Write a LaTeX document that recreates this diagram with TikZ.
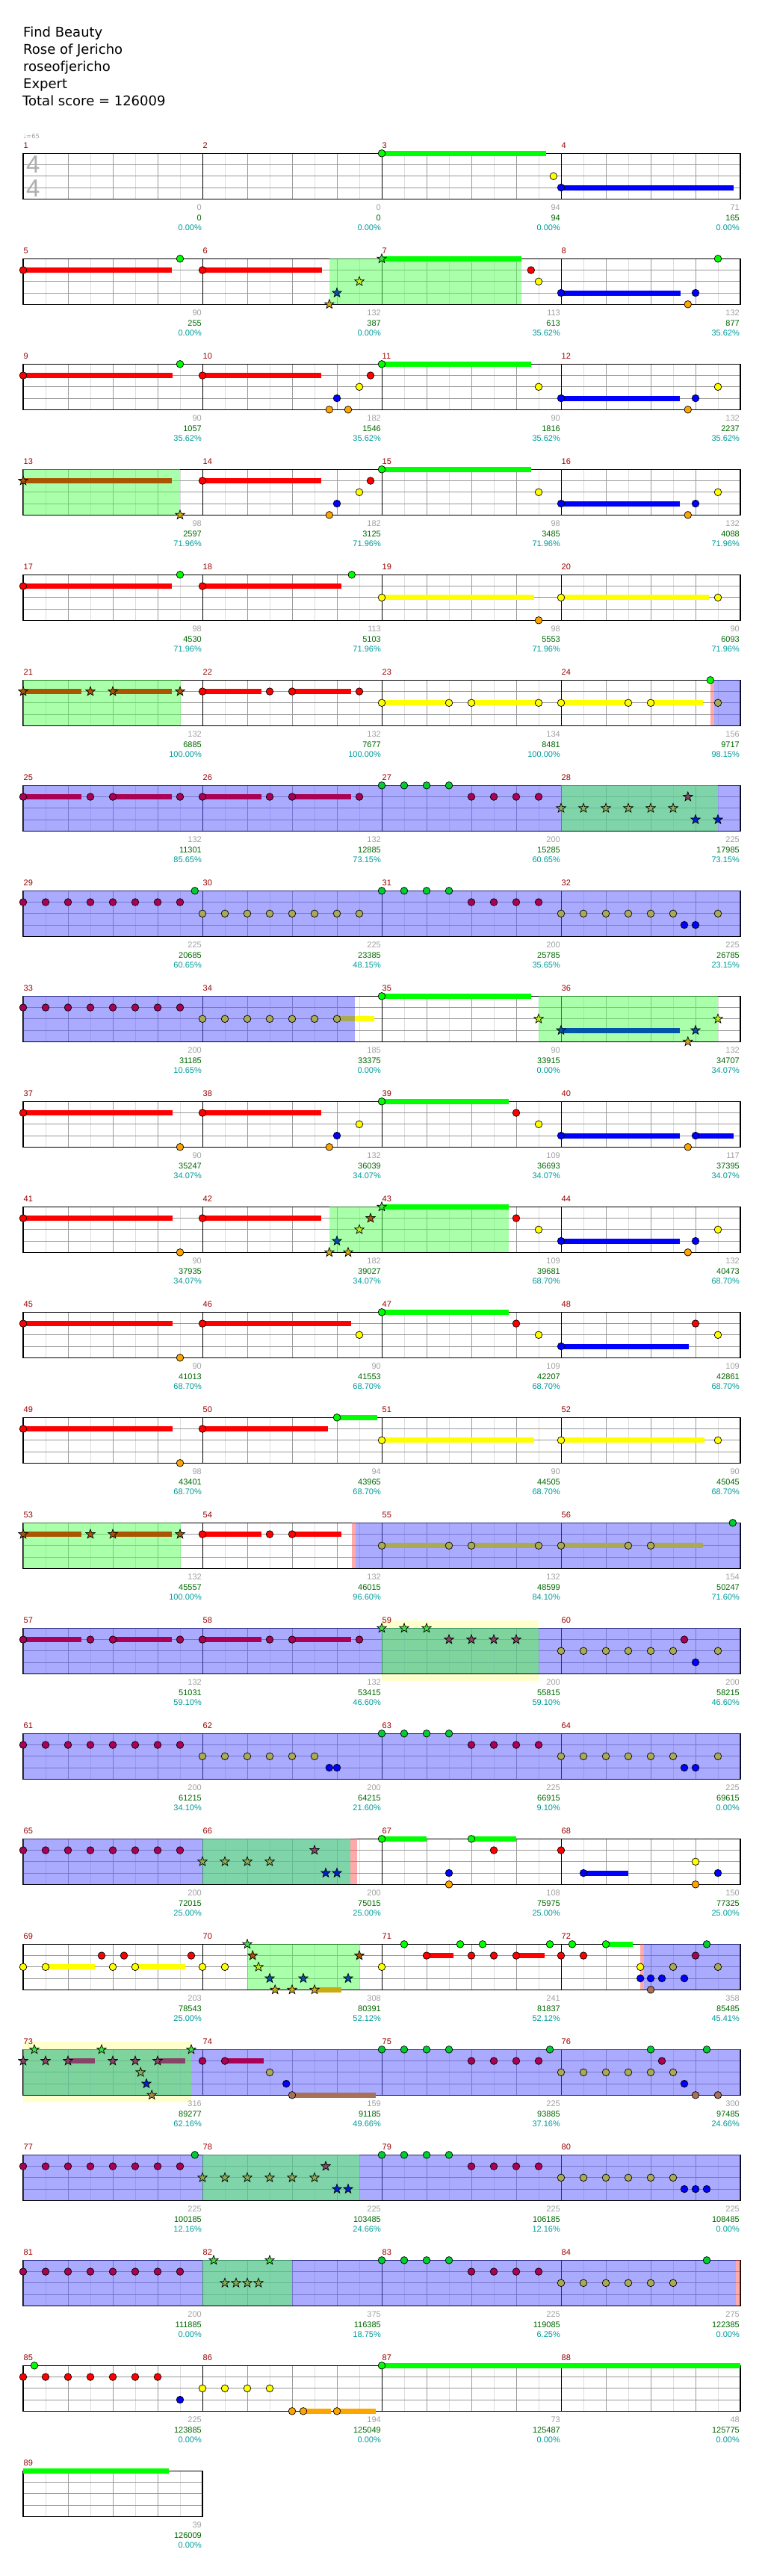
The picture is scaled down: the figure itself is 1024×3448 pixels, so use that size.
\documentclass[tikz,border=0pt]{standalone}
\usepackage{fontspec}
\setmainfont{DejaVu Sans}
\newfontfamily\numfont{Liberation Sans}

\definecolor{ChartGray}{HTML}{A0A0A0}
\definecolor{HalfRule}{HTML}{DDDDDD}
\definecolor{BeatRule}{HTML}{999999}
\definecolor{ScoreGreen}{HTML}{006600}
\definecolor{PctTeal}{HTML}{009999}
\definecolor{BarRed}{HTML}{990000}
\definecolor{NoteG}{HTML}{00FF00}
\definecolor{NoteR}{HTML}{FF0000}
\definecolor{NoteY}{HTML}{FFFF00}
\definecolor{NoteB}{HTML}{0000FF}
\definecolor{NoteO}{HTML}{FFA500}
\definecolor{OdG}{HTML}{00CC33}
\definecolor{OdR}{HTML}{AA0055}
\definecolor{OdY}{HTML}{AAAA55}
\definecolor{OdO}{HTML}{AA7055}
\definecolor{StG}{HTML}{44DD44}
\definecolor{StR}{HTML}{AA5500}
\definecolor{StY}{HTML}{BBEE22}
\definecolor{StB}{HTML}{0055AA}
\definecolor{StO}{HTML}{CCAA11}
\definecolor{TsG}{HTML}{44DD44}
\definecolor{TsR}{HTML}{884466}
\definecolor{TsY}{HTML}{88AA55}
\definecolor{TsB}{HTML}{0022CC}
\definecolor{TsO}{HTML}{AA8844}
\definecolor{PhaseGreen}{HTML}{55FF55}
\definecolor{PhaseBlue}{HTML}{5555FF}
\definecolor{PhasePink}{HTML}{FF5555}
\definecolor{SoloYellow}{HTML}{FFFFCC}

\tikzset{
  rowpos/.style={shift={(31pt,{-205.3pt-141pt*(#1-1)})},x=60pt,y=-15.25pt},
  noteline/.style={draw=black,line width=0.7pt},
  halfrule/.style={HalfRule,line width=0.8pt},
  beatrule/.style={BeatRule,line width=0.8pt},
  barrule/.style={black,line width=0.8pt},
  staffedge/.style={black,line width=1.3pt},
  greenphase/.style={fill=PhaseGreen,fill opacity=0.5},
  bluephase/.style={fill=PhaseBlue,fill opacity=0.5},
  pinkphase/.style={fill=PhasePink,fill opacity=0.5},
  titletext/.style={font=\fontsize{18}{18}\selectfont,anchor=base west,inner sep=0pt},
  mnumber/.style={font=\numfont\fontsize{11}{11}\selectfont,text=BarRed,anchor=base west,inner sep=0pt,xshift=0.5pt,yshift=7.3pt},
  lbl/.style={font=\numfont\fontsize{11}{11}\selectfont,anchor=base east,inner sep=0pt,xshift=-1pt},
  lblgray/.style={lbl,text=ChartGray,yshift=-76.4pt},
  lblscore/.style={lbl,text=ScoreGreen,yshift=-89.7pt},
  lblpct/.style={lbl,text=PctTeal,yshift=-102.7pt},
  starnote/.pic={\draw[noteline,fill=\starfill] (90:6.5pt) -- (126:2.7pt) -- (162:6.5pt) -- (198:2.7pt) -- (234:6.5pt) -- (270:2.7pt) -- (306:6.5pt) -- (342:2.7pt) -- (18:6.5pt) -- (54:2.7pt) -- cycle;}
}

% note, star note, sustain, phase shading
\newcommand{\nt}[3]{\draw[noteline,fill=#3] (#1,#2) circle[radius=4.8pt];}
\newcommand{\sn}[3]{\def\starfill{#3}\pic at (#1,#2) {starnote};}
\newcommand{\su}[4]{\fill[#4] ([yshift=3.5pt]#1,#3) rectangle ([yshift=-3.5pt]#2,#3);}
\newcommand{\phase}[3]{\fill[#3] (#1,0) rectangle (#2,4);}
\newcommand{\staffgrid}[1]{%
  \foreach \i in {1,...,#1} \draw[halfrule] (\i-0.5,0) -- (\i-0.5,4);
  \foreach \i in {1,...,#1} \draw[beatrule] (\i,0) -- (\i,4);
  \foreach \j in {1,2,3} \draw[beatrule] (0,\j) -- (#1,\j);
  \ifnum#1>4 \foreach \i in {4,8,12} \draw[barrule] (\i,0) -- (\i,4);\fi
  \draw[staffedge] (0,0) rectangle (#1,4);}
\newcommand{\mnums}[2]{\foreach \k in {1,...,4}{\pgfmathtruncatemacro\n{#2+\k-1}\node[mnumber] (#1-m\n) at (4*\k-4,0) {\n};}}
\newcommand{\mlab}[5]{%
  \node[lblgray] (#1-#2a) at (4*#2,0) {#3};
  \node[lblscore] (#1-#2b) at (4*#2,0) {#4};
  \node[lblpct] (#1-#2c) at (4*#2,0) {#5};}

\begin{document}
\begin{tikzpicture}
\useasboundingbox (0,0) rectangle (1024pt,-3448pt);

\node[titletext] (song) at (31pt,-49pt) {Find Beauty};
\node[titletext] (band) at (31pt,-72pt) {Rose of Jericho};
\node[titletext] (chart) at (31pt,-95pt) {roseofjericho};
\node[titletext] (level) at (31pt,-118pt) {Expert};
\node[titletext] (total) at (30pt,-141pt) {Total score = 126009};
\node[anchor=base west,inner sep=0pt,font=\fontsize{8.5}{8.5}\selectfont,text=ChartGray] (tempo) at (31pt,-185.5pt) {♩=65};

% row 1
\begin{scope}[rowpos=1]
  \staffgrid{16}
  \node[font=\numfont\fontsize{33}{33}\selectfont,text=ChartGray!85,inner sep=0pt] (timetop) at (0.22,1) {4};
  \node[font=\numfont\fontsize{33}{33}\selectfont,text=ChartGray!85,inner sep=0pt] (timebot) at (0.22,3.05) {4};
  \su{8}{11.67}{0}{NoteG}
  \su{12}{15.85}{3}{NoteB}
  \nt{8}{0}{NoteG}
  \nt{11.83}{2}{NoteY}
  \nt{12}{3}{NoteB}
  \mnums{r1}{1}
  \mlab{r1}{1}{0}{0}{0.00\%}
  \mlab{r1}{2}{0}{0}{0.00\%}
  \mlab{r1}{3}{94}{94}{0.00\%}
  \mlab{r1}{4}{71}{165}{0.00\%}
\end{scope}

% row 2
\begin{scope}[rowpos=2]
  \staffgrid{16}
  \phase{6.83}{11.12}{greenphase}
  \su{0}{3.31}{1}{NoteR}
  \su{4}{6.67}{1}{NoteR}
  \su{8}{11.12}{0}{NoteG}
  \su{12}{14.67}{3}{NoteB}
  \nt{0}{1}{NoteR} \nt{3.5}{0}{NoteG} \nt{4}{1}{NoteR}
  \sn{6.83}{4}{StO} \sn{7}{3}{StB} \sn{7.5}{2}{StY} \sn{8}{0}{StG}
  \nt{11.33}{1}{NoteR} \nt{11.5}{2}{NoteY}
  \nt{12}{3}{NoteB} \nt{14.83}{4}{NoteO} \nt{15}{3}{NoteB} \nt{15.5}{0}{NoteG}
  \mnums{r2}{5}
  \mlab{r2}{1}{90}{255}{0.00\%}
  \mlab{r2}{2}{132}{387}{0.00\%}
  \mlab{r2}{3}{113}{613}{35.62\%}
  \mlab{r2}{4}{132}{877}{35.62\%}
\end{scope}

% row 3
\begin{scope}[rowpos=3]
  \staffgrid{16}
  \su{0}{3.34}{1}{NoteR}
  \su{4}{6.65}{1}{NoteR}
  \su{8}{11.33}{0}{NoteG}
  \su{12}{14.65}{3}{NoteB}
  \nt{0}{1}{NoteR} \nt{3.5}{0}{NoteG} \nt{4}{1}{NoteR}
  \nt{6.83}{4}{NoteO} \nt{7}{3}{NoteB} \nt{7.25}{4}{NoteO} \nt{7.5}{2}{NoteY} \nt{7.75}{1}{NoteR}
  \nt{8}{0}{NoteG} \nt{11.5}{2}{NoteY}
  \nt{12}{3}{NoteB} \nt{14.83}{4}{NoteO} \nt{15}{3}{NoteB} \nt{15.5}{2}{NoteY}
  \mnums{r3}{9}
  \mlab{r3}{1}{90}{1057}{35.62\%}
  \mlab{r3}{2}{182}{1546}{35.62\%}
  \mlab{r3}{3}{90}{1816}{35.62\%}
  \mlab{r3}{4}{132}{2237}{35.62\%}
\end{scope}

% row 4
\begin{scope}[rowpos=4]
  \staffgrid{16}
  \phase{0}{3.5}{greenphase}
  \su{0}{3.31}{1}{StR}
  \su{4}{6.65}{1}{NoteR}
  \su{8}{11.33}{0}{NoteG}
  \su{12}{14.65}{3}{NoteB}
  \sn{0}{1}{StR} \sn{3.5}{4}{StO}
  \nt{4}{1}{NoteR} \nt{6.83}{4}{NoteO} \nt{7}{3}{NoteB} \nt{7.5}{2}{NoteY} \nt{7.75}{1}{NoteR}
  \nt{8}{0}{NoteG} \nt{11.5}{2}{NoteY}
  \nt{12}{3}{NoteB} \nt{14.83}{4}{NoteO} \nt{15}{3}{NoteB} \nt{15.5}{2}{NoteY}
  \mnums{r4}{13}
  \mlab{r4}{1}{98}{2597}{71.96\%}
  \mlab{r4}{2}{182}{3125}{71.96\%}
  \mlab{r4}{3}{98}{3485}{71.96\%}
  \mlab{r4}{4}{132}{4088}{71.96\%}
\end{scope}

% row 5
\begin{scope}[rowpos=5]
  \staffgrid{16}
  \su{0}{3.31}{1}{NoteR}
  \su{4}{7.1}{1}{NoteR}
  \su{8}{11.4}{2}{NoteY}
  \su{12}{15.3}{2}{NoteY}
  \nt{0}{1}{NoteR} \nt{3.5}{0}{NoteG} \nt{4}{1}{NoteR} \nt{7.33}{0}{NoteG}
  \nt{8}{2}{NoteY} \nt{11.5}{4}{NoteO} \nt{12}{2}{NoteY} \nt{15.5}{2}{NoteY}
  \mnums{r5}{17}
  \mlab{r5}{1}{98}{4530}{71.96\%}
  \mlab{r5}{2}{113}{5103}{71.96\%}
  \mlab{r5}{3}{98}{5553}{71.96\%}
  \mlab{r5}{4}{90}{6093}{71.96\%}
\end{scope}

% row 6
\begin{scope}[rowpos=6]
  \staffgrid{16}
  \phase{0}{3.51}{greenphase}
  \phase{15.33}{15.41}{pinkphase}
  \phase{15.41}{16}{bluephase}
  \su{0}{1.3}{1}{StR} \su{2}{3.31}{1}{StR}
  \su{4}{5.31}{1}{NoteR} \su{6}{7.32}{1}{NoteR}
  \su{8}{9.5}{2}{NoteY} \su{10}{11.5}{2}{NoteY} \su{12}{13.5}{2}{NoteY} \su{14}{15.17}{2}{NoteY}
  \foreach \b in {0,1.5,2,3.5} \sn{\b}{1}{StR};
  \foreach \b in {4,5.5,6,7.5} \nt{\b}{1}{NoteR};
  \foreach \b in {8,9.5,10,11.5,12,13.5,14} \nt{\b}{2}{NoteY};
  \nt{15.33}{0}{NoteG} \nt{15.5}{2}{OdY}
  \mnums{r6}{21}
  \mlab{r6}{1}{132}{6885}{100.00\%}
  \mlab{r6}{2}{132}{7677}{100.00\%}
  \mlab{r6}{3}{134}{8481}{100.00\%}
  \mlab{r6}{4}{156}{9717}{98.15\%}
\end{scope}

% row 7
\begin{scope}[rowpos=7]
  \staffgrid{16}
  \phase{0}{16}{bluephase}
  \phase{12}{15.5}{greenphase}
  \su{0}{1.3}{1}{OdR} \su{2}{3.31}{1}{OdR} \su{4}{5.31}{1}{OdR} \su{6}{7.32}{1}{OdR}
  \foreach \b in {0,1.5,2,3.5,4,5.5,6,7.5,10,10.5,11,11.5} \nt{\b}{1}{OdR};
  \foreach \b in {8,8.5,9,9.5} \nt{\b}{0}{OdG};
  \foreach \b in {12,12.5,13,13.5,14,14.5} \sn{\b}{2}{TsY};
  \sn{14.83}{1}{TsR} \sn{15}{3}{TsB} \sn{15.5}{3}{TsB}
  \mnums{r7}{25}
  \mlab{r7}{1}{132}{11301}{85.65\%}
  \mlab{r7}{2}{132}{12885}{73.15\%}
  \mlab{r7}{3}{200}{15285}{60.65\%}
  \mlab{r7}{4}{225}{17985}{73.15\%}
\end{scope}

% row 8
\begin{scope}[rowpos=8]
  \staffgrid{16}
  \phase{0}{16}{bluephase}
  \foreach \b in {0,0.5,...,3.5} \nt{\b}{1}{OdR};
  \nt{3.83}{0}{OdG}
  \foreach \b in {4,4.5,...,7.5} \nt{\b}{2}{OdY};
  \foreach \b in {8,8.5,9,9.5} \nt{\b}{0}{OdG};
  \foreach \b in {10,10.5,11,11.5} \nt{\b}{1}{OdR};
  \foreach \b in {12,12.5,...,14.5} \nt{\b}{2}{OdY};
  \nt{14.75}{3}{NoteB} \nt{15}{3}{NoteB} \nt{15.5}{2}{OdY}
  \mnums{r8}{29}
  \mlab{r8}{1}{225}{20685}{60.65\%}
  \mlab{r8}{2}{225}{23385}{48.15\%}
  \mlab{r8}{3}{200}{25785}{35.65\%}
  \mlab{r8}{4}{225}{26785}{23.15\%}
\end{scope}

% row 9
\begin{scope}[rowpos=9]
  \staffgrid{16}
  \phase{0}{7.4}{bluephase}
  \phase{11.5}{15.5}{greenphase}
  \su{7}{7.4}{2}{OdY} \su{7.4}{7.84}{2}{NoteY}
  \su{8}{11.33}{0}{NoteG}
  \su{12}{14.65}{3}{StB}
  \foreach \b in {0,0.5,...,3.5} \nt{\b}{1}{OdR};
  \foreach \b in {4,4.5,...,7} \nt{\b}{2}{OdY};
  \nt{8}{0}{NoteG}
  \sn{11.5}{2}{StY} \sn{12}{3}{StB} \sn{14.83}{4}{StO} \sn{15}{3}{StB} \sn{15.5}{2}{StY}
  \mnums{r9}{33}
  \mlab{r9}{1}{200}{31185}{10.65\%}
  \mlab{r9}{2}{185}{33375}{0.00\%}
  \mlab{r9}{3}{90}{33915}{0.00\%}
  \mlab{r9}{4}{132}{34707}{34.07\%}
\end{scope}

% row 10
\begin{scope}[rowpos=10]
  \staffgrid{16}
  \su{0}{3.34}{1}{NoteR} \su{4}{6.65}{1}{NoteR}
  \su{8}{10.84}{0}{NoteG} \su{12}{14.65}{3}{NoteB} \su{15}{15.85}{3}{NoteB}
  \nt{0}{1}{NoteR} \nt{3.5}{4}{NoteO} \nt{4}{1}{NoteR}
  \nt{6.83}{4}{NoteO} \nt{7}{3}{NoteB} \nt{7.5}{2}{NoteY}
  \nt{8}{0}{NoteG} \nt{11}{1}{NoteR} \nt{11.5}{2}{NoteY}
  \nt{12}{3}{NoteB} \nt{14.83}{4}{NoteO} \nt{15}{3}{NoteB}
  \mnums{r10}{37}
  \mlab{r10}{1}{90}{35247}{34.07\%}
  \mlab{r10}{2}{132}{36039}{34.07\%}
  \mlab{r10}{3}{109}{36693}{34.07\%}
  \mlab{r10}{4}{117}{37395}{34.07\%}
\end{scope}

% row 11
\begin{scope}[rowpos=11]
  \staffgrid{16}
  \phase{6.83}{10.84}{greenphase}
  \su{0}{3.34}{1}{NoteR} \su{4}{6.65}{1}{NoteR}
  \su{8}{10.84}{0}{NoteG} \su{12}{14.65}{3}{NoteB}
  \nt{0}{1}{NoteR} \nt{3.5}{4}{NoteO} \nt{4}{1}{NoteR}
  \sn{6.83}{4}{StO} \sn{7}{3}{StB} \sn{7.25}{4}{StO} \sn{7.5}{2}{StY} \sn{7.75}{1}{StR} \sn{8}{0}{StG}
  \nt{11}{1}{NoteR} \nt{11.5}{2}{NoteY}
  \nt{12}{3}{NoteB} \nt{14.83}{4}{NoteO} \nt{15}{3}{NoteB} \nt{15.5}{2}{NoteY}
  \mnums{r11}{41}
  \mlab{r11}{1}{90}{37935}{34.07\%}
  \mlab{r11}{2}{182}{39027}{34.07\%}
  \mlab{r11}{3}{109}{39681}{68.70\%}
  \mlab{r11}{4}{132}{40473}{68.70\%}
\end{scope}

% row 12
\begin{scope}[rowpos=12]
  \staffgrid{16}
  \su{0}{3.34}{1}{NoteR} \su{4}{7.32}{1}{NoteR}
  \su{8}{10.84}{0}{NoteG} \su{12}{14.85}{3}{NoteB}
  \nt{0}{1}{NoteR} \nt{3.5}{4}{NoteO} \nt{4}{1}{NoteR} \nt{7.5}{2}{NoteY}
  \nt{8}{0}{NoteG} \nt{11}{1}{NoteR} \nt{11.5}{2}{NoteY}
  \nt{12}{3}{NoteB} \nt{15}{1}{NoteR} \nt{15.5}{2}{NoteY}
  \mnums{r12}{45}
  \mlab{r12}{1}{90}{41013}{68.70\%}
  \mlab{r12}{2}{90}{41553}{68.70\%}
  \mlab{r12}{3}{109}{42207}{68.70\%}
  \mlab{r12}{4}{109}{42861}{68.70\%}
\end{scope}

% row 13
\begin{scope}[rowpos=13]
  \staffgrid{16}
  \su{0}{3.34}{1}{NoteR} \su{4}{6.8}{1}{NoteR} \su{7}{7.9}{0}{NoteG}
  \su{8}{11.4}{2}{NoteY} \su{12}{15.2}{2}{NoteY}
  \nt{0}{1}{NoteR} \nt{3.5}{4}{NoteO} \nt{4}{1}{NoteR} \nt{7}{0}{NoteG}
  \nt{8}{2}{NoteY} \nt{12}{2}{NoteY} \nt{15.5}{2}{NoteY}
  \mnums{r13}{49}
  \mlab{r13}{1}{98}{43401}{68.70\%}
  \mlab{r13}{2}{94}{43965}{68.70\%}
  \mlab{r13}{3}{90}{44505}{68.70\%}
  \mlab{r13}{4}{90}{45045}{68.70\%}
\end{scope}

% row 14
\begin{scope}[rowpos=14]
  \staffgrid{16}
  \phase{0}{3.51}{greenphase}
  \phase{7.33}{7.41}{pinkphase}
  \phase{7.41}{16}{bluephase}
  \su{0}{1.3}{1}{StR} \su{2}{3.31}{1}{StR}
  \su{4}{5.31}{1}{NoteR} \su{6}{7.1}{1}{NoteR}
  \su{8}{9.5}{2}{OdY} \su{10}{11.5}{2}{OdY} \su{12}{13.5}{2}{OdY} \su{14}{15.17}{2}{OdY}
  \foreach \b in {0,1.5,2,3.5} \sn{\b}{1}{StR};
  \foreach \b in {4,5.5,6} \nt{\b}{1}{NoteR};
  \foreach \b in {8,9.5,10,11.5,12,13.5,14} \nt{\b}{2}{OdY};
  \nt{15.83}{0}{OdG}
  \mnums{r14}{53}
  \mlab{r14}{1}{132}{45557}{100.00\%}
  \mlab{r14}{2}{132}{46015}{96.60\%}
  \mlab{r14}{3}{132}{48599}{84.10\%}
  \mlab{r14}{4}{154}{50247}{71.60\%}
\end{scope}

% row 15
\begin{scope}[rowpos=15]
  \fill[SoloYellow] ([yshift=10pt]8,0) rectangle ([yshift=-10pt]11.5,4);
  \staffgrid{16}
  \phase{0}{16}{bluephase}
  \phase{8}{11.5}{greenphase}
  \su{0}{1.3}{1}{OdR} \su{2}{3.31}{1}{OdR} \su{4}{5.31}{1}{OdR} \su{6}{7.32}{1}{OdR}
  \foreach \b in {0,1.5,2,3.5,4,5.5,6,7.5} \nt{\b}{1}{OdR};
  \foreach \b in {8,8.5,9} \sn{\b}{0}{TsG};
  \foreach \b in {9.5,10,10.5,11} \sn{\b}{1}{TsR};
  \foreach \b in {12,12.5,...,14.5} \nt{\b}{2}{OdY};
  \nt{14.75}{1}{OdR} \nt{15}{3}{NoteB} \nt{15.5}{2}{OdY}
  \mnums{r15}{57}
  \mlab{r15}{1}{132}{51031}{59.10\%}
  \mlab{r15}{2}{132}{53415}{46.60\%}
  \mlab{r15}{3}{200}{55815}{59.10\%}
  \mlab{r15}{4}{200}{58215}{46.60\%}
\end{scope}

% row 16
\begin{scope}[rowpos=16]
  \staffgrid{16}
  \phase{0}{16}{bluephase}
  \foreach \b in {0,0.5,...,3.5} \nt{\b}{1}{OdR};
  \foreach \b in {4,4.5,...,6.5} \nt{\b}{2}{OdY};
  \nt{6.83}{3}{NoteB} \nt{7}{3}{NoteB}
  \foreach \b in {8,8.5,9,9.5} \nt{\b}{0}{OdG};
  \foreach \b in {10,10.5,11,11.5} \nt{\b}{1}{OdR};
  \foreach \b in {12,12.5,...,14.5} \nt{\b}{2}{OdY};
  \nt{14.75}{3}{NoteB} \nt{15}{3}{NoteB} \nt{15.5}{2}{OdY}
  \mnums{r16}{61}
  \mlab{r16}{1}{200}{61215}{34.10\%}
  \mlab{r16}{2}{200}{64215}{21.60\%}
  \mlab{r16}{3}{225}{66915}{9.10\%}
  \mlab{r16}{4}{225}{69615}{0.00\%}
\end{scope}

% row 17
\begin{scope}[rowpos=17]
  \staffgrid{16}
  \phase{0}{7.3}{bluephase}
  \phase{4}{7.3}{greenphase}
  \phase{7.3}{7.45}{pinkphase}
  \su{8}{9}{0}{NoteG} \su{10}{11}{0}{NoteG} \su{12.5}{13.5}{3}{NoteB}
  \foreach \b in {0,0.5,...,3.5} \nt{\b}{1}{OdR};
  \foreach \b in {4,4.5,5,5.5} \sn{\b}{2}{TsY};
  \sn{6.5}{1}{TsR} \sn{6.75}{3}{TsB} \sn{7}{3}{TsB}
  \nt{8}{0}{NoteG} \nt{10}{0}{NoteG} \nt{9.5}{3}{NoteB} \nt{9.5}{4}{NoteO} \nt{10.5}{1}{NoteR}
  \nt{12}{1}{NoteR} \nt{12.5}{3}{NoteB} \nt{15}{2}{NoteY} \nt{15}{4}{NoteO} \nt{15.5}{3}{NoteB}
  \mnums{r17}{65}
  \mlab{r17}{1}{200}{72015}{25.00\%}
  \mlab{r17}{2}{200}{75015}{25.00\%}
  \mlab{r17}{3}{108}{75975}{25.00\%}
  \mlab{r17}{4}{150}{77325}{25.00\%}
\end{scope}

% row 18
\begin{scope}[rowpos=18]
  \staffgrid{16}
  \phase{5}{7.51}{greenphase}
  \phase{13.77}{13.85}{pinkphase}
  \phase{13.85}{16}{bluephase}
  \su{0.5}{1.6}{2}{NoteY} \su{2.5}{3.62}{2}{NoteY}
  \su{6.5}{7.1}{4}{StO}
  \su{9}{9.6}{1}{NoteR} \su{11}{11.63}{1}{NoteR} \su{13}{13.6}{0}{NoteG}
  \foreach \b in {0,0.5,2,2.5,4,4.5} \nt{\b}{2}{NoteY};
  \foreach \b in {1.75,2.25,3.75} \nt{\b}{1}{NoteR};
  \sn{5}{0}{StG} \sn{5.12}{1}{StR} \sn{5.25}{2}{StY} \sn{5.5}{3}{StB}
  \sn{5.62}{4}{StO} \sn{6}{4}{StO} \sn{6.5}{4}{StO} \sn{6.25}{3}{StB} \sn{7.25}{3}{StB} \sn{7.5}{1}{StR}
  \nt{8}{2}{NoteY}
  \foreach \b in {8.5,9.75,10.25,11.75,12.25,13} \nt{\b}{0}{NoteG};
  \foreach \b in {9,10,10.5,11,12,12.5} \nt{\b}{1}{NoteR};
  \nt{13.77}{2}{NoteY} \nt{13.77}{3}{NoteB} \nt{14}{3}{NoteB} \nt{14.25}{3}{NoteB} \nt{14.75}{3}{NoteB}
  \nt{14}{4}{OdO} \nt{14.5}{2}{OdY} \nt{15.5}{2}{OdY} \nt{15}{1}{OdR} \nt{15.25}{0}{OdG}
  \mnums{r18}{69}
  \mlab{r18}{1}{203}{78543}{25.00\%}
  \mlab{r18}{2}{308}{80391}{52.12\%}
  \mlab{r18}{3}{241}{81837}{52.12\%}
  \mlab{r18}{4}{358}{85485}{45.41\%}
\end{scope}

% row 19
\begin{scope}[rowpos=19]
  \fill[SoloYellow] ([yshift=10pt]0,0) rectangle ([yshift=-10pt]3.75,4);
  \staffgrid{16}
  \phase{0}{16}{bluephase}
  \phase{0}{3.75}{greenphase}
  \su{1}{1.6}{1}{TsR} \su{3}{3.62}{1}{TsR}
  \su{4.5}{5.37}{1}{OdR} \su{6}{7.87}{4}{OdO}
  \sn{0.25}{0}{TsG} \sn{1.75}{0}{TsG} \sn{3.75}{0}{TsG}
  \foreach \b in {0,0.5,1,2,2.5,3} \sn{\b}{1}{TsR};
  \sn{2.62}{2}{TsY} \sn{2.75}{3}{TsB} \sn{2.87}{4}{TsO}
  \nt{4}{1}{OdR} \nt{4.5}{1}{OdR} \nt{5.5}{2}{OdY} \nt{5.87}{3}{NoteB} \nt{6}{4}{OdO}
  \foreach \b in {8,8.5,9,9.5,11.75,14,15.25} \nt{\b}{0}{OdG};
  \foreach \b in {10,10.5,11,11.5,14.25} \nt{\b}{1}{OdR};
  \foreach \b in {12,12.5,13,13.5,14,14.5} \nt{\b}{2}{OdY};
  \nt{14.75}{3}{NoteB} \nt{15}{4}{OdO} \nt{15.5}{4}{OdO}
  \mnums{r19}{73}
  \mlab{r19}{1}{316}{89277}{62.16\%}
  \mlab{r19}{2}{159}{91185}{49.66\%}
  \mlab{r19}{3}{225}{93885}{37.16\%}
  \mlab{r19}{4}{300}{97485}{24.66\%}
\end{scope}

% row 20
\begin{scope}[rowpos=20]
  \staffgrid{16}
  \phase{0}{16}{bluephase}
  \phase{4}{7.5}{greenphase}
  \foreach \b in {0,0.5,...,3.5} \nt{\b}{1}{OdR};
  \nt{3.83}{0}{OdG}
  \foreach \b in {4,4.5,...,6.5} \sn{\b}{2}{TsY};
  \sn{6.75}{1}{TsR} \sn{7}{3}{TsB} \sn{7.25}{3}{TsB}
  \foreach \b in {8,8.5,9,9.5} \nt{\b}{0}{OdG};
  \foreach \b in {10,10.5,11,11.5} \nt{\b}{1}{OdR};
  \foreach \b in {12,12.5,...,14.5} \nt{\b}{2}{OdY};
  \nt{14.75}{3}{NoteB} \nt{15}{3}{NoteB} \nt{15.25}{3}{NoteB}
  \mnums{r20}{77}
  \mlab{r20}{1}{225}{100185}{12.16\%}
  \mlab{r20}{2}{225}{103485}{24.66\%}
  \mlab{r20}{3}{225}{106185}{12.16\%}
  \mlab{r20}{4}{225}{108485}{0.00\%}
\end{scope}

% row 21
\begin{scope}[rowpos=21]
  \staffgrid{16}
  \phase{0}{15.9}{bluephase}
  \phase{4}{6}{greenphase}
  \phase{15.9}{16}{pinkphase}
  \foreach \b in {0,0.5,...,3.5} \nt{\b}{1}{OdR};
  \foreach \b in {4.25,5.5} \sn{\b}{0}{TsG};
  \foreach \b in {4.5,4.75,5,5.25} \sn{\b}{2}{TsY};
  \foreach \b in {8,8.5,9,9.5} \nt{\b}{0}{OdG};
  \foreach \b in {10,10.5,11,11.5} \nt{\b}{1}{OdR};
  \foreach \b in {12,12.5,...,14.5} \nt{\b}{2}{OdY};
  \nt{15.25}{0}{OdG}
  \mnums{r21}{81}
  \mlab{r21}{1}{200}{111885}{0.00\%}
  \mlab{r21}{2}{375}{116385}{18.75\%}
  \mlab{r21}{3}{225}{119085}{6.25\%}
  \mlab{r21}{4}{275}{122385}{0.00\%}
\end{scope}

% row 22
\begin{scope}[rowpos=22]
  \staffgrid{16}
  \su{6.25}{6.87}{4}{NoteO} \su{7}{7.87}{4}{NoteO} \su{8}{16}{0}{NoteG}
  \nt{0.25}{0}{NoteG}
  \foreach \b in {0,0.5,...,3} \nt{\b}{1}{NoteR};
  \nt{3.5}{3}{NoteB}
  \foreach \b in {4,4.5,5,5.5} \nt{\b}{2}{NoteY};
  \nt{6}{4}{NoteO} \nt{6.25}{4}{NoteO} \nt{7}{4}{NoteO} \nt{8}{0}{NoteG}
  \mnums{r22}{85}
  \mlab{r22}{1}{225}{123885}{0.00\%}
  \mlab{r22}{2}{194}{125049}{0.00\%}
  \mlab{r22}{3}{73}{125487}{0.00\%}
  \mlab{r22}{4}{48}{125775}{0.00\%}
\end{scope}

% row 23
\begin{scope}[rowpos=23]
  \staffgrid{4}
  \su{0}{3.25}{0}{NoteG}
  \node[mnumber] (r23-m89) at (0,0) {89};
  \mlab{r23}{1}{39}{126009}{0.00\%}
\end{scope}
\end{tikzpicture}
\end{document}
